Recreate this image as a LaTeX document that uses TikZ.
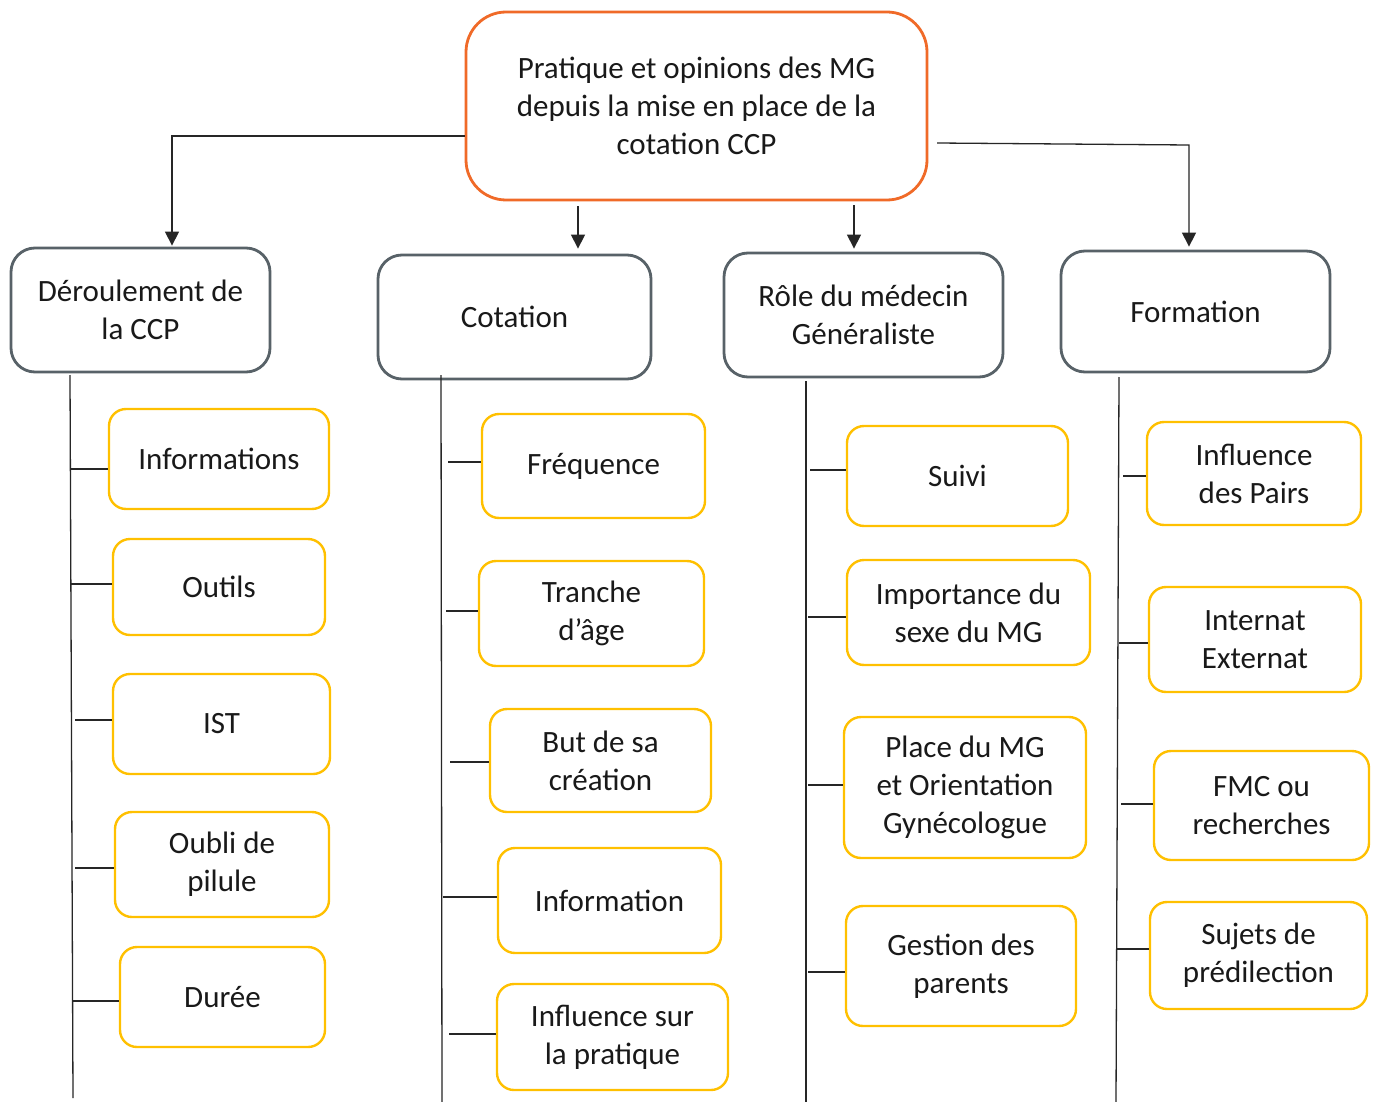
\documentclass[tikz,border=0pt]{standalone}
\usepackage{fontspec}
\setmainfont{Carlito}
\usetikzlibrary{arrows.meta}
\definecolor{orangeB}{RGB}{240,106,40}
\definecolor{slateB}{RGB}{88,98,104}
\definecolor{yellowB}{RGB}{255,192,0}
\begin{document}
\begin{tikzpicture}[x=1pt,y=-1pt,
  base/.style={rectangle,inner sep=0pt,align=center,font=\fontsize{31}{38}\selectfont,text=black!90},
  topbox/.style={base,draw=orangeB,line width=2.8pt,rounded corners=40pt},
  midbox/.style={base,draw=slateB,line width=2.8pt,rounded corners=24pt},
  leaf/.style={base,draw=yellowB,line width=2.4pt,rounded corners=17pt},
  conn/.style={line width=1.3pt,draw=black!85},
  arr/.style={conn,-{Triangle[width=14pt,length=14pt]}}]
\useasboundingbox (0,0) rectangle (1378,1102);
\fill[white] (0,0) rectangle (1378,1102);

% top
\node[topbox,minimum width=461pt,minimum height=188pt] (top) at (696.5,106) {Pratique et opinions des MG\\depuis la mise en place de la\\cotation CCP};

% level 2
\node[midbox,minimum width=259pt,minimum height=124pt] (der) at (140.5,310) {Déroulement de\\la CCP};
\node[midbox,minimum width=273pt,minimum height=124pt] (cot) at (514.5,317) {Cotation};
\node[midbox,minimum width=279pt,minimum height=124pt] (role) at (863.5,315) {Rôle du médecin\\Généraliste};
\node[midbox,minimum width=269pt,minimum height=121pt] (form) at (1195.5,311.5) {Formation};

% leaves column 1
\node[leaf,minimum width=220pt,minimum height=100pt] (inf) at (219,459) {Informations};
\node[leaf,minimum width=212pt,minimum height=96pt] (out) at (219,587) {Outils};
\node[leaf,minimum width=217pt,minimum height=100pt] (ist) at (221.5,724) {IST};
\node[leaf,minimum width=214pt,minimum height=105pt] (oub) at (222,864.5) {Oubli de\\pilule};
\node[leaf,minimum width=205pt,minimum height=100pt] (dur) at (222.5,997) {Durée};
% column 2
\node[leaf,minimum width=223pt,minimum height=104pt] (fre) at (593.5,466) {Fréquence};
\node[leaf,minimum width=225pt,minimum height=105pt] (tra) at (591.5,613.5) {Tranche\\d’âge};
\node[leaf,minimum width=221pt,minimum height=103pt] (but) at (600.5,760.5) {But de sa\\création};
\node[leaf,minimum width=223pt,minimum height=105pt] (info) at (609.5,900.5) {Information};
\node[leaf,minimum width=231pt,minimum height=106pt] (infl) at (612.5,1037) {Influence sur\\la pratique};
% column 3
\node[leaf,minimum width=221pt,minimum height=100pt] (sui) at (957.5,476) {Suivi};
\node[leaf,minimum width=243pt,minimum height=105pt] (imp) at (968.5,612.5) {Importance du\\sexe du MG};
\node[leaf,minimum width=242pt,minimum height=141pt] (pla) at (965,787.5) {Place du MG\\et Orientation\\Gynécologue};
\node[leaf,minimum width=230pt,minimum height=120pt] (ges) at (961,966) {Gestion des\\parents};
% column 4
\node[leaf,minimum width=214pt,minimum height=103pt] (pai) at (1254,473.5) {Influence\\des Pairs};
\node[leaf,minimum width=212pt,minimum height=105pt] (int) at (1255,639.5) {Internat\\Externat};
\node[leaf,minimum width=215pt,minimum height=109pt] (fmc) at (1261.5,805.5) {FMC ou\\recherches};
\node[leaf,minimum width=217pt,minimum height=107pt] (suj) at (1258.5,955.5) {Sujets de\\prédilection};

% arrows from top
\coordinate (bL) at (172,136);
\draw[arr] (top.west |- bL) -- (bL) -- ([yshift=1pt]bL |- der.north);
\coordinate (bC) at (578,0);
\draw[arr] ([yshift=-5pt]top.south -| bC) -- ([yshift=5pt]cot.north -| bC);
\coordinate (bR) at (854,0);
\draw[arr] ([yshift=-4pt]top.south -| bR) -- ([yshift=3pt]role.north -| bR);
\coordinate (rS) at (937,143);
\coordinate (rB) at (1189,145);
\draw[arr] (rS) -- (rB) -- ([yshift=3pt]rB |- form.north);

% vertical spines
\coordinate (v1s) at (70,375); \coordinate (v1e) at (73,1098);
\coordinate (v2s) at (441,375); \coordinate (v2e) at (442,1102);
\coordinate (v3s) at (806,381); \coordinate (v3e) at (806,1102);
\coordinate (v4s) at (1119,377); \coordinate (v4e) at (1116,1102);
\draw[conn] (v1s) -- (v1e);
\draw[conn] (v2s) -- (v2e);
\draw[conn] (v3s) -- (v3e);
\draw[conn] (v4s) -- (v4e);

% ticks
\foreach \n/\x/\y in {inf/71/469, out/70/584, ist/75/720, oub/75/868, dur/73/1001,
  fre/448/462, tra/446/611, but/450/762, info/443/897, infl/449/1034,
  sui/810/470, imp/808/617, pla/808/785, ges/808/972,
  pai/1123/476, int/1119/643, fmc/1121/804, suj/1117/949}{
  \coordinate (t\n) at (\x,\y);
  \draw[conn] (t\n) -- (t\n -| \n.west);
}
\end{tikzpicture}
\end{document}
